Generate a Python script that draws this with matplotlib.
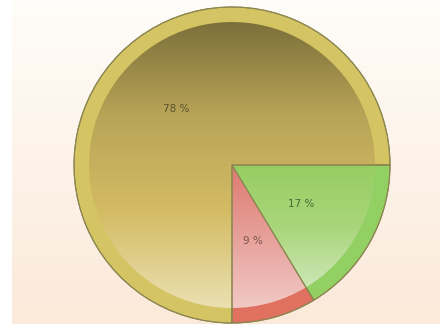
import numpy as np
import matplotlib
matplotlib.use("Agg")
from matplotlib import pyplot as plt
from matplotlib.patches import Wedge
from matplotlib.colors import to_rgb

# slice values, in drawing order (clockwise from the bottom)
values = [78, 17, 9]
ring_colors = ["#d5c463", "#93d063", "#e0705f"]
text_colors = ["#57532f", "#3f6e35", "#7a5050"]
# vertical gradient stops for each slice: top -> bottom
grad_stops = [
    ["#7a6e39", "#b9a457", "#d4bc64", "#ebe0b2"],
    ["#96cd62", "#a9d57a", "#cbe7b6"],
    ["#dd7a70", "#e7a09a", "#f1c9c5"],
]

W, H = 440, 324
cx, cy, R = 232, 159, 158
inner = 0.905

fig = plt.figure(figsize=(W / 100, H / 100), dpi=100)
fig.patch.set_facecolor("white")
ax = fig.add_axes([0, 0, 1, 1])

# page background, white at the top fading to peach
bg_top = np.array(to_rgb("#fffdf9"))
bg_bot = np.array(to_rgb("#fbe9d9"))
t = np.linspace(0, 1, 200)[:, None]
bg = (bg_bot * (1 - t) + bg_top * t)[:, None, :]
ax.imshow(bg, extent=[12, W, 0, H], origin="lower", aspect="auto",
          interpolation="bilinear", zorder=-1)

total = sum(values)
outer, _, pct_texts = ax.pie(
    values, startangle=-90, counterclock=False, colors=ring_colors,
    radius=R, center=(cx, cy), pctdistance=0.5,
    autopct=lambda p: "%d %%" % round(p * total / 100),
    wedgeprops=dict(edgecolor="#8c8650", linewidth=0.8),
    textprops=dict(fontsize=7.5))

inner_wedges, _ = ax.pie(
    values, startangle=-90, counterclock=False, radius=R * inner,
    center=(cx, cy),
    wedgeprops=dict(facecolor="none", edgecolor="none", linewidth=0))

# fill each inner wedge with its own vertical gradient
for w, stops in zip(inner_wedges, grad_stops):
    verts = w.get_path().vertices
    x0, y0 = verts.min(axis=0)
    x1, y1 = verts.max(axis=0)
    cols = np.array([to_rgb(c) for c in stops])[::-1]
    pos = np.linspace(0, 1, len(stops))
    tt = np.linspace(0, 1, 256)
    # row 0 is the bottom of the wedge
    img = np.stack([np.interp(tt, pos, cols[:, k]) for k in range(3)], axis=1)
    im = ax.imshow(img[:, None, :], extent=[x0, x1, y0, y1], origin="lower",
                   aspect="auto", interpolation="bilinear", zorder=2)
    im.set_clip_path(w)

# slice separators on top of the gradients
for w in outer:
    ax.add_patch(Wedge((cx, cy), R, w.theta1, w.theta2, facecolor="none",
                       edgecolor="#8c8650", linewidth=0.8, zorder=3))

for txt, c in zip(pct_texts, text_colors):
    txt.set_color(c)
    txt.set_zorder(5)

ax.set_xlim(0, W)
ax.set_ylim(0, H)
ax.set_aspect("auto")
ax.axis("off")

fig.savefig("out.png", dpi=100)
